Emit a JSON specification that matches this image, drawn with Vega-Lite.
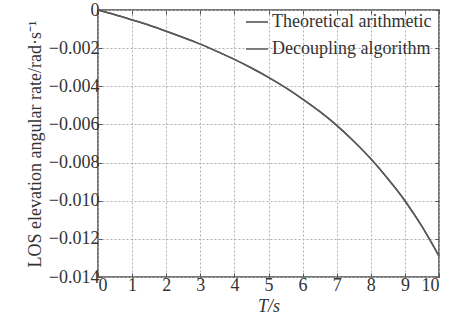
{
  "$schema": "https://vega.github.io/schema/vega-lite/v6.json",
  "width": 341,
  "height": 267,
  "autosize": {"type": "none"},
  "padding": {"left": 98, "top": 10, "right": 15, "bottom": 43},
  "background": "white",
  "config": {
    "font": "Liberation Serif",
    "view": {"stroke": "#777", "strokeWidth": 2}
  },
  "data": {
    "values": [
      {"t": 0, "v": 0, "s": "Theoretical arithmetic"},
      {"t": 0.5, "v": -0.00025, "s": "Theoretical arithmetic"},
      {"t": 1, "v": -0.00052, "s": "Theoretical arithmetic"},
      {"t": 1.5, "v": -0.0008, "s": "Theoretical arithmetic"},
      {"t": 2, "v": -0.00111, "s": "Theoretical arithmetic"},
      {"t": 2.5, "v": -0.00144, "s": "Theoretical arithmetic"},
      {"t": 3, "v": -0.00179, "s": "Theoretical arithmetic"},
      {"t": 3.5, "v": -0.00218, "s": "Theoretical arithmetic"},
      {"t": 4, "v": -0.00259, "s": "Theoretical arithmetic"},
      {"t": 4.5, "v": -0.00304, "s": "Theoretical arithmetic"},
      {"t": 5, "v": -0.00353, "s": "Theoretical arithmetic"},
      {"t": 5.5, "v": -0.00407, "s": "Theoretical arithmetic"},
      {"t": 6, "v": -0.00467, "s": "Theoretical arithmetic"},
      {"t": 6.5, "v": -0.00532, "s": "Theoretical arithmetic"},
      {"t": 7, "v": -0.00605, "s": "Theoretical arithmetic"},
      {"t": 7.5, "v": -0.00688, "s": "Theoretical arithmetic"},
      {"t": 8, "v": -0.0078, "s": "Theoretical arithmetic"},
      {"t": 8.5, "v": -0.00885, "s": "Theoretical arithmetic"},
      {"t": 9, "v": -0.01, "s": "Theoretical arithmetic"},
      {"t": 9.5, "v": -0.01135, "s": "Theoretical arithmetic"},
      {"t": 10, "v": -0.0129, "s": "Theoretical arithmetic"},
      {"t": 0, "v": 0, "s": "Decoupling algorithm"},
      {"t": 0.5, "v": -0.00025, "s": "Decoupling algorithm"},
      {"t": 1, "v": -0.00052, "s": "Decoupling algorithm"},
      {"t": 1.5, "v": -0.0008, "s": "Decoupling algorithm"},
      {"t": 2, "v": -0.00111, "s": "Decoupling algorithm"},
      {"t": 2.5, "v": -0.00144, "s": "Decoupling algorithm"},
      {"t": 3, "v": -0.00179, "s": "Decoupling algorithm"},
      {"t": 3.5, "v": -0.00218, "s": "Decoupling algorithm"},
      {"t": 4, "v": -0.00259, "s": "Decoupling algorithm"},
      {"t": 4.5, "v": -0.00304, "s": "Decoupling algorithm"},
      {"t": 5, "v": -0.00353, "s": "Decoupling algorithm"},
      {"t": 5.5, "v": -0.00407, "s": "Decoupling algorithm"},
      {"t": 6, "v": -0.00467, "s": "Decoupling algorithm"},
      {"t": 6.5, "v": -0.00532, "s": "Decoupling algorithm"},
      {"t": 7, "v": -0.00605, "s": "Decoupling algorithm"},
      {"t": 7.5, "v": -0.00688, "s": "Decoupling algorithm"},
      {"t": 8, "v": -0.0078, "s": "Decoupling algorithm"},
      {"t": 8.5, "v": -0.00885, "s": "Decoupling algorithm"},
      {"t": 9, "v": -0.01, "s": "Decoupling algorithm"},
      {"t": 9.5, "v": -0.01135, "s": "Decoupling algorithm"},
      {"t": 10, "v": -0.0129, "s": "Decoupling algorithm"}
    ]
  },
  "encoding": {
    "color": {
      "field": "s", "type": "nominal",
      "sort": ["Theoretical arithmetic", "Decoupling algorithm"],
      "scale": {"domain": ["Theoretical arithmetic", "Decoupling algorithm"], "range": ["#4a4a4a", "#5a5a5a"]},
      "legend": {
        "title": null, "orient": "none", "legendX": 147, "legendY": 0,
        "symbolType": "stroke", "symbolSize": 484, "symbolStrokeWidth": 1.5,
        "labelFontSize": 18, "labelColor": "#333", "labelOffset": 3,
        "rowPadding": 6
      }
    }
  },
  "resolve": {"axis": {"x": "independent", "y": "independent"}},
  "layer": [
    {
      "transform": [{"filter": "datum.s == 'Theoretical arithmetic'"}],
      "mark": {"type": "line", "strokeWidth": 1.5, "interpolate": "monotone"},
      "encoding": {
        "x": {
          "field": "t", "type": "quantitative",
          "scale": {"domain": [0, 10], "nice": false},
          "axis": {
            "values": [0,1,2,3,4,5,6,7,8,9,10],
            "title": "T/s", "titleFontStyle": "italic", "titleFontWeight": "normal",
            "titleFontSize": 18, "titleColor": "#333", "titlePadding": 3,
            "labelFontSize": 18, "labelColor": "#333", "labelPadding": 3,
            "tickSize": -4, "tickColor": "#555", "domain": false,
            "grid": true, "gridDash": [2, 2], "gridColor": "#b0b0b0"
          }
        },
        "y": {
          "field": "v", "type": "quantitative",
          "scale": {"domain": [-0.014, 0], "nice": false},
          "axis": {
            "values": [0, -0.002, -0.004, -0.006, -0.008, -0.01, -0.012, -0.014],
            "labelExpr": "datum.value == 0 ? '0' : replace(format(datum.value, '.3f'), '-', '−')",
            "title": "LOS elevation angular rate/rad·s⁻¹", "titleFontWeight": "normal",
            "titleFontSize": 18, "titleColor": "#333", "titlePadding": 4,
            "labelFontSize": 18, "labelColor": "#333", "labelPadding": 3,
            "tickSize": -4, "tickColor": "#555", "domain": false,
            "grid": true, "gridDash": [2, 2], "gridColor": "#b0b0b0"
          }
        }
      }
    },
    {
      "transform": [{"filter": "datum.s == 'Decoupling algorithm'"}],
      "mark": {"type": "line", "strokeWidth": 1.5, "interpolate": "monotone"},
      "encoding": {
        "x": {
          "field": "t", "type": "quantitative",
          "scale": {"domain": [0, 10], "nice": false},
          "axis": {
            "orient": "top", "values": [0,1,2,3,4,5,6,7,8,9,10],
            "title": null, "labels": false, "grid": false, "domain": false,
            "tickSize": -4, "tickColor": "#555"
          }
        },
        "y": {
          "field": "v", "type": "quantitative",
          "scale": {"domain": [-0.014, 0], "nice": false},
          "axis": {
            "orient": "right", "values": [0, -0.002, -0.004, -0.006, -0.008, -0.01, -0.012, -0.014],
            "title": null, "labels": false, "grid": false, "domain": false,
            "tickSize": -4, "tickColor": "#555"
          }
        }
      }
    }
  ]
}
